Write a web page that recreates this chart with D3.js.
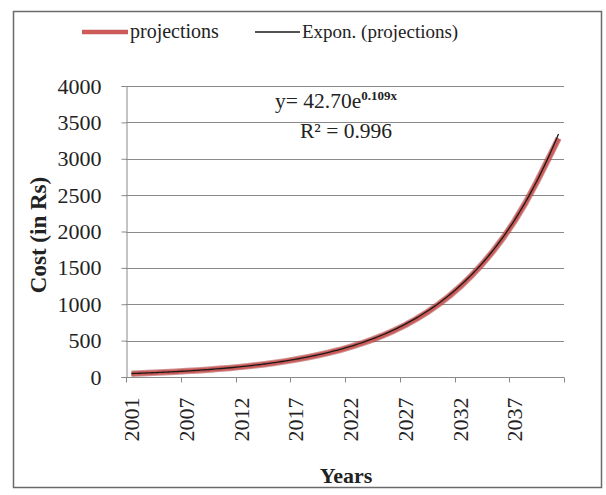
<!DOCTYPE html>
<html>
<head>
<meta charset="utf-8">
<script src="https://cdn.jsdelivr.net/npm/d3@7/dist/d3.min.js"></script>
<style>
  html, body { margin: 0; padding: 0; background: #fff; }
  svg { display: block; }
  text { font-family: "Liberation Serif", "Times New Roman", serif; fill: #222; }
</style>
</head>
<body>
<svg id="chart" width="606" height="495"></svg>
<script>
// ---- data ----
const years = [2001, 2003, 2004, 2005, 2006, 2007, 2008, 2009, 2010, 2011,
               2012, 2013, 2014, 2015, 2016, 2017, 2018, 2019, 2020, 2021,
               2022, 2023, 2024, 2025, 2026, 2027, 2028, 2029, 2030, 2031,
               2032, 2033, 2034, 2035, 2036, 2037, 2038, 2039, 2040, 2041];
const projections = [46, 52, 58, 65, 72, 81, 90, 100, 112, 125,
                     139, 155, 173, 193, 215, 240, 268, 299, 333, 371,
                     414, 461, 514, 573, 640, 714, 797, 890, 994, 1110,
                     1240, 1385, 1546, 1725, 1925, 2148, 2398, 2676, 2975, 3280];
const yTicks = [0, 500, 1000, 1500, 2000, 2500, 3000, 3500, 4000];
const trendA = 42.70;   // from the displayed equation y = 42.70e^0.109x
const trendB = 0.109;
const rSquared = "0.996";
const seriesNames = ["projections", "Expon. (projections)"];

(function () {
// ---- layout ----
const svg = d3.select("#chart");
const pLeft = 126, pRight = 564, pTop = 86, pBottom = 377;

svg.append("rect").attr("x", 0).attr("y", 0).attr("width", 606).attr("height", 495).attr("fill", "#fff");
svg.append("rect").attr("x", 13.5).attr("y", 11.5).attr("width", 588).attr("height", 476)
  .attr("fill", "none").attr("stroke", "#6a6a6a").attr("stroke-width", 1.5);

const x = d3.scaleBand().domain(d3.range(years.length)).range([pLeft, pRight]).paddingInner(0).paddingOuter(0);
const xc = i => x(0) + (i + 0.5) * x.bandwidth();
const y = d3.scaleLinear().domain([0, 4000]).range([pBottom, pTop]);

// gridlines
svg.append("g").selectAll("line").data(yTicks.filter(d => d > 0)).join("line")
  .attr("x1", pLeft).attr("x2", pRight)
  .attr("y1", d => Math.round(y(d)) + 0.5).attr("y2", d => Math.round(y(d)) + 0.5)
  .attr("stroke", "#8a8a8a").attr("stroke-width", 1);

// y axis
const yAxis = svg.append("g").attr("transform", `translate(${pLeft + 0.5},0)`)
  .call(d3.axisLeft(y).tickValues(yTicks).tickSize(5).tickPadding(20).tickFormat(d3.format("d")));
yAxis.select(".domain").attr("stroke", "#8a8a8a");
yAxis.selectAll(".tick line").attr("stroke", "#8a8a8a");
yAxis.selectAll(".tick text").attr("font-size", 22).attr("font-family", "Liberation Serif").attr("fill", "#222");

// x axis
const xAxisG = svg.append("g").attr("transform", `translate(0,${pBottom + 0.5})`);
xAxisG.append("line").attr("x1", pLeft).attr("x2", pRight).attr("stroke", "#8a8a8a");
const tickIdx = d3.range(0, years.length + 1, 5);
xAxisG.selectAll("line.tk").data(tickIdx).join("line").attr("class", "tk")
  .attr("x1", i => Math.round(x(0) + i * x.bandwidth()) + 0.5)
  .attr("x2", i => Math.round(x(0) + i * x.bandwidth()) + 0.5)
  .attr("y1", 0).attr("y2", 5).attr("stroke", "#8a8a8a");
xAxisG.selectAll("text").data(d3.range(0, years.length, 5)).join("text")
  .attr("transform", i => `translate(${xc(i)},20) rotate(-90)`)
  .attr("text-anchor", "end").attr("dy", "0.35em")
  .attr("font-size", 22).text(i => years[i]);

// projections line
const line = d3.line().x((d, i) => xc(i)).y(d => y(d));
svg.append("path").datum(projections).attr("d", line)
  .attr("fill", "none").attr("stroke", "#a83a38").attr("stroke-width", 6.5).attr("stroke-linejoin", "round").attr("opacity", 0.55);
svg.append("path").datum(projections).attr("d", line)
  .attr("fill", "none").attr("stroke", "#cc5a58").attr("stroke-width", 4.5).attr("stroke-linejoin", "round");

// exponential trendline
const tPts = d3.range(0, years.length - 1 + 0.001, 0.25);
const tline = d3.line().x(t => xc(t)).y(t => y(trendA * Math.exp(trendB * (t + 1)))).curve(d3.curveMonotoneX);
svg.append("path").datum(tPts).attr("d", tline)
  .attr("fill", "none").attr("stroke", "#1a1a1a").attr("stroke-width", 1.3);

// equation
const eq = svg.append("text").attr("x", 275).attr("y", 108).attr("font-size", 21.5);
eq.append("tspan").text(`y= ${trendA.toFixed(2)}e`);
eq.append("tspan").attr("font-size", 13).attr("font-weight", "bold").attr("dy", -8).text(`${trendB}x`);
svg.append("text").attr("x", 300).attr("y", 138).attr("font-size", 21.5).text(`R² = ${rSquared}`);

// legend
const lg = svg.append("g");
lg.append("line").attr("x1", 82).attr("x2", 128).attr("y1", 32).attr("y2", 32)
  .attr("stroke", "#cc5a58").attr("stroke-width", 4.5);
lg.append("text").attr("x", 130).attr("y", 38).attr("font-size", 20).text(seriesNames[0]);
lg.append("line").attr("x1", 255).attr("x2", 300).attr("y1", 32).attr("y2", 32)
  .attr("stroke", "#1a1a1a").attr("stroke-width", 1.3);
lg.append("text").attr("x", 302).attr("y", 38).attr("font-size", 19).text(seriesNames[1]);

// axis titles
svg.append("text").attr("transform", "translate(46,235) rotate(-90)")
  .attr("text-anchor", "middle").attr("font-size", 23).attr("font-weight", "bold").text("Cost (in Rs)");
svg.append("text").attr("x", 346).attr("y", 483)
  .attr("text-anchor", "middle").attr("font-size", 22).attr("font-weight", "bold").text("Years");
})();
</script>
</body>
</html>
